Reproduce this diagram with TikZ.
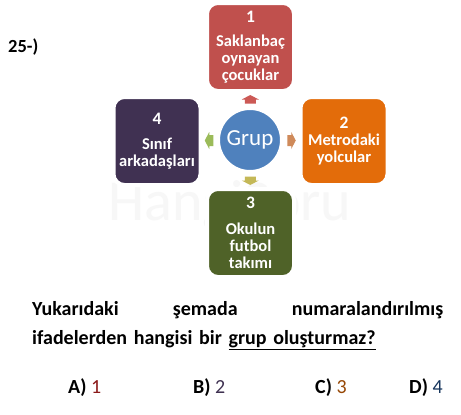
\documentclass[tikz,border=0pt]{standalone}
\usepackage{fontspec}
\setmainfont{Carlito}
\usetikzlibrary{shadows,calc}
\definecolor{boxred}{HTML}{C0504D}
\definecolor{boxorange}{HTML}{E36C0A}
\definecolor{boxgreen}{HTML}{4F6228}
\definecolor{boxpurple}{HTML}{403152}
\definecolor{grupblue}{HTML}{4F81BD}
\definecolor{arrred}{HTML}{CC5955}
\definecolor{arrorange}{HTML}{CF8A5A}
\definecolor{arrgreen}{HTML}{9BBB59}
\definecolor{arrolive}{HTML}{C4B857}
\definecolor{ansone}{HTML}{8B1A1A}
\definecolor{anstwo}{HTML}{3F3151}
\definecolor{ansthree}{HTML}{974806}
\definecolor{ansfour}{HTML}{17365D}
\newcommand{\boxnum}[1]{{\fontsize{17.5}{17.5}\selectfont\bfseries #1}}
\tikzset{
  itembox/.style={draw=white, line width=4pt, rounded corners=11pt,
    minimum width=87pt, minimum height=88pt, inner sep=0pt,
    text=white, align=center,
    font=\fontsize{16.5}{16.8}\selectfont\bfseries,
    drop shadow={shadow xshift=0.8pt, shadow yshift=-0.8pt, opacity=0.3}},
  qtext/.style={font=\fontsize{20}{29}\selectfont\bfseries, inner sep=0pt}
}
\begin{document}
\begin{tikzpicture}[x=1pt,y=-1pt]
  \useasboundingbox[fill=white] (0,0) rectangle (461,415);

  % Watermark
  \node[text=gray!6, font=\fontsize{58}{58}\selectfont] (mark) at (230,206) {HangiSoru};

  % Question number
  \node[font=\fontsize{18.5}{18.5}\selectfont\bfseries, anchor=west, inner sep=0pt] (qnum) at (8,47) {25-)};

  % Boxes
  \node[itembox, fill=boxred] (box1) at (250.5,47) {\boxnum{1}\\[8pt]Saklanbaç\\oynayan\\çocuklar};
  \node[itembox, fill=boxorange] (box2) at (344,141) {\boxnum{2}\\Metrodaki\\yolcular};
  \node[itembox, fill=boxgreen] (box3) at (250.5,233) {\boxnum{3}\\[9pt]Okulun\\futbol\\takımı};
  \node[itembox, fill=boxpurple] (box4) at (157,141) {\boxnum{4}\\[8pt]Sınıf\\arkadaşları};

  % Center
  \node[circle, draw=white, line width=4pt, fill=grupblue, minimum size=64pt,
    inner sep=0pt, text=white, font=\fontsize{23}{23}\selectfont,
    drop shadow={shadow xshift=0.8pt, shadow yshift=-0.8pt, opacity=0.3}]
    (grup) at (250,140) {Grup};

  % Arrows
  \coordinate (arr1) at ($(grup.north)!0.5!(box1.south)$);
  \coordinate (arr2) at ($(grup.east)!0.5!(box2.west)$);
  \coordinate (arr3) at ($(grup.south)!0.5!(box3.north)$);
  \coordinate (arr4) at ($(grup.west)!0.5!(box4.east)$);
  \foreach \pt/\ang/\col in {arr1/90/arrred, arr2/0/arrorange, arr3/-90/arrolive, arr4/180/arrgreen}
    \fill[\col, shift={(\pt)}, rotate=\ang]
      (-4,-5.5) -- (0,-5.5) -- (0,-8.5) -- (4.5,0) -- (0,8.5) -- (0,5.5) -- (-4,5.5) -- cycle;

  % Question
  \node[qtext, anchor=north west, text width=411pt, align=left] (question) at (32,301)
    {Yukarıdaki\hfill şemada\hfill numaralandırılmış\\
     ifadelerden hangisi bir \underline{grup oluşturmaz?}};

  % Answers
  \node[qtext, anchor=west] (ansA) at (68,388) {A) \mdseries\textcolor{ansone}{1}};
  \node[qtext, anchor=west] (ansB) at (193,388) {B) \mdseries\textcolor{anstwo}{2}};
  \node[qtext, anchor=west] (ansC) at (315,388) {C) \mdseries\textcolor{ansthree}{3}};
  \node[qtext, anchor=west] (ansD) at (409,388) {D) \mdseries\textcolor{ansfour}{4}};
\end{tikzpicture}
\end{document}
